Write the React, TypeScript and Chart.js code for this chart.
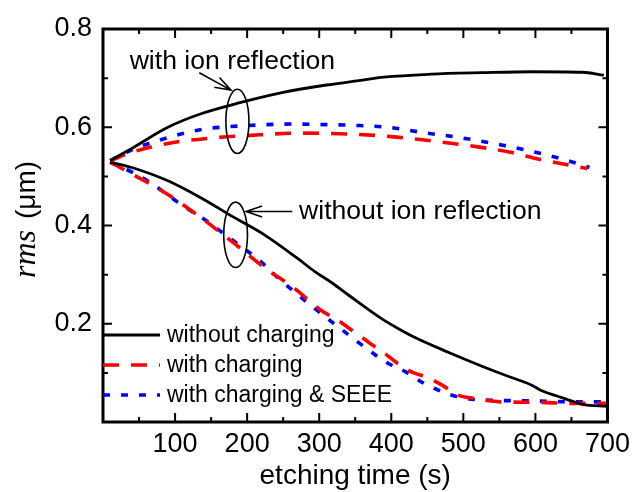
import React, { useEffect, useRef } from 'react';
import { Chart, registerables } from 'chart.js';

Chart.register(...registerables);

const SANS = '"Liberation Sans", Arial, Helvetica, sans-serif';
const SERIF = '"Liberation Serif", "Times New Roman", serif';

// ---- data: with ion reflection (upper group) ----
const tTopBlack = [10, 40, 90, 135, 190, 250, 310, 355, 390, 455, 525, 595, 665, 695];
const rTopBlack = [0.532, 0.557, 0.6, 0.627, 0.65, 0.671, 0.686, 0.695, 0.702, 0.708, 0.711, 0.713, 0.712, 0.706];

const tTopRed = [10, 40, 90, 150, 200, 270, 345, 400, 440, 480, 525, 565, 605, 650, 672];
const rTopRed = [0.532, 0.549, 0.567, 0.578, 0.583, 0.588, 0.586, 0.581, 0.575, 0.568, 0.559, 0.549, 0.535, 0.522, 0.516];

const tTopBlue = [10, 40, 90, 135, 195, 265, 320, 345, 395, 445, 495, 545, 595, 645, 675];
const rTopBlue = [0.532, 0.554, 0.579, 0.595, 0.603, 0.6065, 0.605, 0.604, 0.6, 0.589, 0.579, 0.566, 0.551, 0.532, 0.518];

// ---- data: without ion reflection (lower group) ----
const tBotBlack = [10, 40, 90, 135, 180, 225, 270, 295, 318, 341, 387, 410, 433, 479, 525, 562, 595, 608, 630, 650, 665, 700];
const rBotBlack = [0.529, 0.518, 0.491, 0.457, 0.418, 0.38, 0.333, 0.305, 0.283, 0.258, 0.21, 0.19, 0.172, 0.142, 0.114, 0.093, 0.075, 0.064, 0.053, 0.043, 0.036, 0.032];

const tBotRed = [10, 40, 90, 135, 180, 226, 263, 303, 326, 347, 368, 391, 409, 428, 451, 474, 492, 515, 552, 608, 644, 700];
const rBotRed = [0.529, 0.505, 0.463, 0.417, 0.366, 0.312, 0.275, 0.227, 0.207, 0.185, 0.163, 0.1395, 0.119, 0.102, 0.09, 0.072, 0.055, 0.048, 0.041, 0.04, 0.038, 0.038];

const tBotBlue = [10, 41, 65, 110, 143, 168, 193, 217, 244, 294, 341, 369, 396, 420, 445, 470, 496, 525, 595, 648, 700];
const rBotBlue = [0.529, 0.508, 0.488, 0.441, 0.41, 0.383, 0.356, 0.329, 0.292, 0.231, 0.177, 0.146, 0.119, 0.102, 0.079, 0.062, 0.05, 0.045, 0.043, 0.041, 0.041];

const legendLabels = ['without charging', 'with charging', 'with charging & SEEE'];

const xTitle = 'etching time (s)';
const yTitleItalic = 'rms';
const yTitleUnit = '(\u03bcm)';

// annotation anchors in data units
const ellipses = [
  { x: 186.5, y: 0.612, rx: 16, ry: 0.0655 },
  { x: 184, y: 0.381, rx: 16.5, ry: 0.0665 },
];
const annotTexts = [
  { text: 'with ion reflection', x: 37, y: 0.719 },
  { text: 'without ion reflection', x: 272, y: 0.4136 },
];
const arrows = [
  { x0: 133.6, y0: 0.711, x1: 177.5, y1: 0.6755 },
  { x0: 262.6, y0: 0.4284, x1: 198.5, y1: 0.4284 },
];

const pts = (t: number[], r: number[]) => t.map((v, i) => ({ x: v, y: r[i] }));

const styles = [
  { borderColor: '#000000', borderWidth: 2.8, borderDash: [] as number[] },
  { borderColor: '#ff0000', borderWidth: 3.6, borderDash: [16, 12] },
  { borderColor: '#0000ff', borderWidth: 3.6, borderDash: [7, 11] },
];

const framePlugin = {
  id: 'frameTicks',
  afterDatasetsDraw(chart: any) {
    const { ctx, chartArea: a, scales } = chart;
    const x = scales.x;
    const y = scales.y;
    ctx.save();
    ctx.strokeStyle = '#000';
    ctx.lineWidth = 2;
    const major = 9;
    const minor = 5;
    const xv: number[] = x.ticks.map((t: any) => t.value);
    const yv: number[] = y.ticks.map((t: any) => t.value);
    const xMinor: number[] = [];
    for (let i = 0; i < xv.length - 1; i++) xMinor.push((xv[i] + xv[i + 1]) / 2);
    const yMinor: number[] = [];
    for (let i = 0; i < yv.length - 1; i++) yMinor.push((yv[i] + yv[i + 1]) / 2);
    ctx.beginPath();
    const xt = (v: number, len: number) => {
      const p = x.getPixelForValue(v);
      ctx.moveTo(p, a.bottom); ctx.lineTo(p, a.bottom - len);
      ctx.moveTo(p, a.top); ctx.lineTo(p, a.top + len);
    };
    const yt = (v: number, len: number) => {
      const p = y.getPixelForValue(v);
      ctx.moveTo(a.left, p); ctx.lineTo(a.left + len, p);
      ctx.moveTo(a.right, p); ctx.lineTo(a.right - len, p);
    };
    xv.forEach((v) => xt(v, major));
    xMinor.forEach((v) => xt(v, minor));
    yv.forEach((v) => yt(v, major));
    yMinor.forEach((v) => yt(v, minor));
    ctx.stroke();
    ctx.lineWidth = 3;
    ctx.strokeRect(a.left, a.top, a.right - a.left, a.bottom - a.top);
    ctx.restore();
  },
};

const annotationPlugin = {
  id: 'annotations',
  afterDatasetsDraw(chart: any) {
    const { ctx, scales } = chart;
    const x = scales.x;
    const y = scales.y;
    ctx.save();
    ctx.strokeStyle = '#000';
    ctx.fillStyle = '#000';
    ctx.lineWidth = 1.6;
    ellipses.forEach((e) => {
      const cx = x.getPixelForValue(e.x);
      const cy = y.getPixelForValue(e.y);
      const rx = x.getPixelForValue(e.x + e.rx) - cx;
      const ry = cy - y.getPixelForValue(e.y + e.ry);
      ctx.beginPath();
      ctx.ellipse(cx, cy, rx, ry, 0, 0, Math.PI * 2);
      ctx.stroke();
    });
    arrows.forEach((ar) => {
      const x0 = x.getPixelForValue(ar.x0);
      const y0 = y.getPixelForValue(ar.y0);
      const x1 = x.getPixelForValue(ar.x1);
      const y1 = y.getPixelForValue(ar.y1);
      const ang = Math.atan2(y1 - y0, x1 - x0);
      const hl = 17;
      const hw = 0.33;
      ctx.beginPath();
      ctx.moveTo(x0, y0);
      ctx.lineTo(x1, y1);
      ctx.moveTo(x1 - hl * Math.cos(ang - hw), y1 - hl * Math.sin(ang - hw));
      ctx.lineTo(x1, y1);
      ctx.lineTo(x1 - hl * Math.cos(ang + hw), y1 - hl * Math.sin(ang + hw));
      ctx.stroke();
    });
    ctx.font = `26.6px ${SANS}`;
    ctx.textAlign = 'left';
    ctx.textBaseline = 'alphabetic';
    annotTexts.forEach((t) => {
      ctx.fillText(t.text, x.getPixelForValue(t.x), y.getPixelForValue(t.y));
    });
    ctx.restore();
  },
};

const legendPlugin = {
  id: 'insideLegend',
  afterDatasetsDraw(chart: any) {
    const { ctx, chartArea: a } = chart;
    const ds = chart.data.datasets;
    ctx.save();
    ctx.font = `23px ${SANS}`;
    ctx.textBaseline = 'middle';
    ctx.textAlign = 'left';
    const offsets = [87, 57, 27];
    for (let i = 0; i < 3; i++) {
      const d = ds[i];
      const yy = a.bottom - offsets[i];
      ctx.beginPath();
      ctx.strokeStyle = d.borderColor;
      ctx.lineWidth = d.borderWidth;
      ctx.setLineDash(d.borderDash || []);
      ctx.moveTo(a.left, yy);
      ctx.lineTo(a.left + 57, yy);
      ctx.stroke();
      ctx.setLineDash([]);
      ctx.fillStyle = '#000';
      ctx.fillText(d.label, a.left + 64, yy + 1);
    }
    ctx.restore();
  },
};

const yTitlePlugin = {
  id: 'yTitle',
  afterDraw(chart: any) {
    const { ctx, chartArea: a } = chart;
    ctx.save();
    const italicFont = `italic 32px ${SERIF}`;
    const unitFont = `28px ${SANS}`;
    ctx.font = italicFont;
    const w1 = ctx.measureText(yTitleItalic).width;
    ctx.font = unitFont;
    const w2 = ctx.measureText(yTitleUnit).width;
    const gap = 11;
    const total = w1 + gap + w2;
    const cy = (a.top + a.bottom) / 2 - 6;
    ctx.translate(35, cy + total / 2);
    ctx.rotate(-Math.PI / 2);
    ctx.fillStyle = '#000';
    ctx.textBaseline = 'alphabetic';
    ctx.textAlign = 'left';
    ctx.font = italicFont;
    ctx.fillText(yTitleItalic, 0, 0);
    ctx.font = unitFont;
    ctx.fillText(yTitleUnit, w1 + gap, 0);
    ctx.restore();
  },
};

export default function App() {
  const ref = useRef<HTMLCanvasElement>(null);
  useEffect(() => {
    const canvas = ref.current;
    if (!canvas) return;
    const series = [
      { label: legendLabels[0], data: pts(tTopBlack, rTopBlack), s: styles[0] },
      { label: legendLabels[1], data: pts(tTopRed, rTopRed), s: styles[1] },
      { label: legendLabels[2], data: pts(tTopBlue, rTopBlue), s: styles[2] },
      { label: legendLabels[0], data: pts(tBotBlack, rBotBlack), s: styles[0] },
      { label: legendLabels[1], data: pts(tBotRed, rBotRed), s: styles[1] },
      { label: legendLabels[2], data: pts(tBotBlue, rBotBlue), s: styles[2] },
    ];
    const chart = new Chart(canvas, {
      type: 'line',
      data: {
        datasets: series.map((d) => ({
          label: d.label,
          data: d.data,
          borderColor: d.s.borderColor,
          borderWidth: d.s.borderWidth,
          borderDash: d.s.borderDash,
          backgroundColor: d.s.borderColor,
          pointRadius: 0,
          fill: false,
          cubicInterpolationMode: 'monotone',
        })),
      },
      options: {
        animation: false,
        responsive: false,
        devicePixelRatio: 1,
        layout: { padding: { left: 0, right: 27, top: 29, bottom: 0 } },
        plugins: {
          legend: { display: false },
          tooltip: { enabled: false },
        },
        scales: {
          x: {
            type: 'linear',
            min: 0,
            max: 700,
            grid: { display: false, drawTicks: false },
            border: { display: false },
            ticks: {
              stepSize: 100,
              autoSkip: false,
              maxRotation: 0,
              padding: 6,
              color: '#000',
              font: { family: SANS, size: 27 },
              callback: (v: any) => (v === 0 ? '' : String(v)),
            },
            title: {
              display: true,
              text: xTitle,
              color: '#000',
              font: { family: SANS, size: 28 },
              padding: { top: 0, bottom: -1 },
            },
            afterFit: (s: any) => {
              s.height = 70;
            },
          },
          y: {
            type: 'linear',
            min: 0,
            max: 0.8,
            grid: { display: false, drawTicks: false },
            border: { display: false },
            ticks: {
              stepSize: 0.2,
              padding: 11,
              color: '#000',
              font: { family: SANS, size: 27 },
              callback: (v: any) => (Math.abs(v) < 1e-9 ? '' : Number(v).toFixed(1)),
            },
            afterFit: (s: any) => {
              s.width = 103;
            },
          },
        },
      },
      plugins: [framePlugin, annotationPlugin, legendPlugin, yTitlePlugin],
    } as any);
    return () => chart.destroy();
  }, []);
  return (
    <div style={{ position: 'fixed', left: 0, top: 0, width: 636, height: 492, background: '#fff' }}>
      <canvas ref={ref} width={636} height={492} style={{ display: 'block', width: 636, height: 492 }} />
    </div>
  );
}
